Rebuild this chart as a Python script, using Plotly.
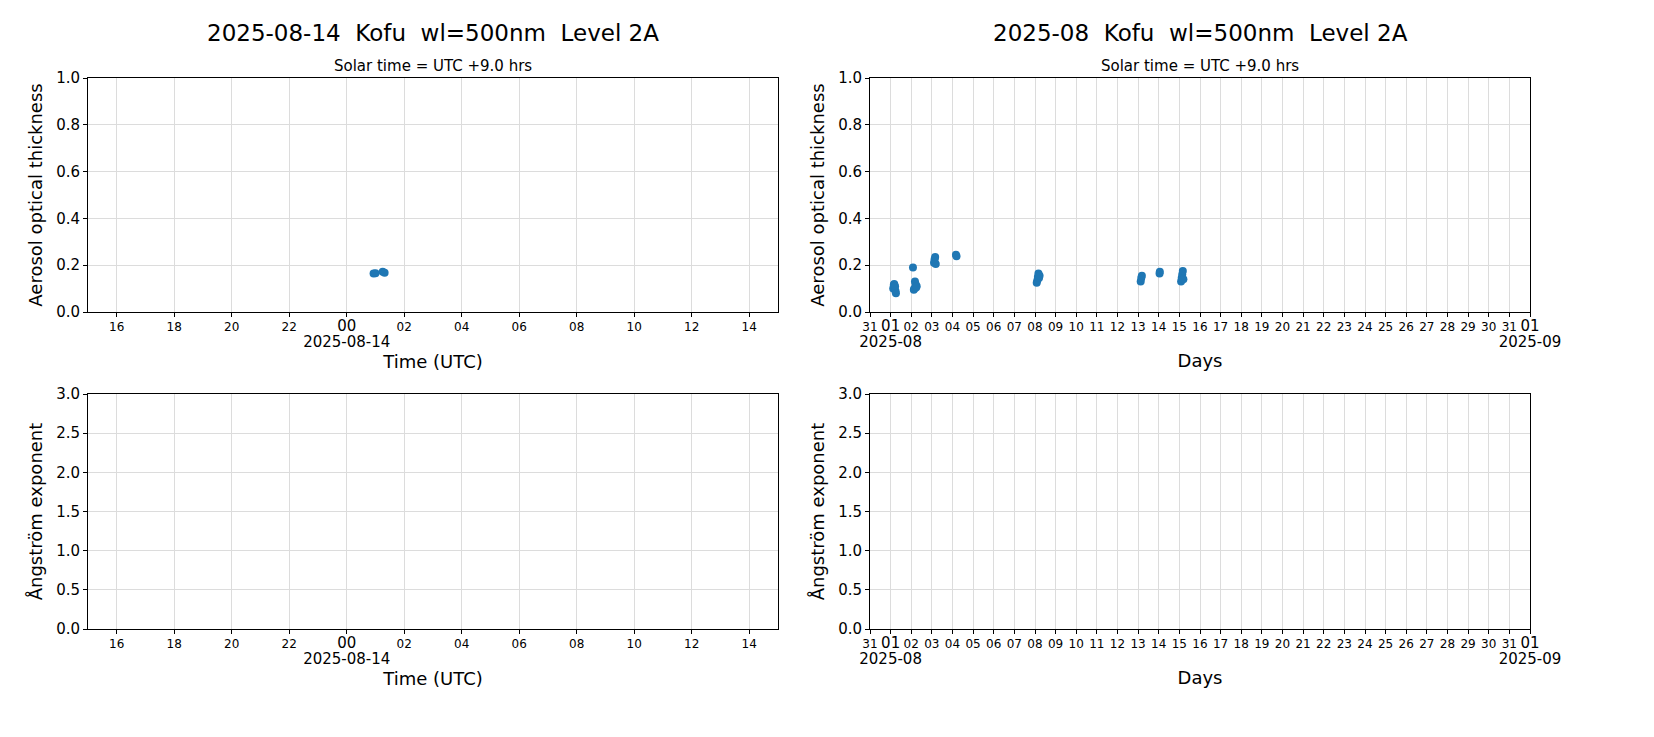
import plotly.graph_objects as go
from datetime import datetime, timedelta

# Daily plot data (UTC times on 2025-08-14)
day_times = ["2025-08-14 00:56", "2025-08-14 01:00", "2025-08-14 01:15", "2025-08-14 01:19"]
day_aot = [0.165, 0.166, 0.172, 0.168]

# Monthly plot data
month_times = ["2025-08-01 03:00", "2025-08-01 03:40", "2025-08-01 04:10", "2025-08-01 04:40", "2025-08-01 05:10", "2025-08-01 05:40", "2025-08-01 06:10",
               "2025-08-02 02:00",
               "2025-08-02 03:00", "2025-08-02 03:40", "2025-08-02 04:20", "2025-08-02 05:00", "2025-08-02 05:40", "2025-08-02 06:20",
               "2025-08-03 02:30", "2025-08-03 03:10", "2025-08-03 03:50", "2025-08-03 04:30",
               "2025-08-04 04:00", "2025-08-04 04:40",
               "2025-08-08 02:00", "2025-08-08 02:40", "2025-08-08 03:20", "2025-08-08 04:00", "2025-08-08 04:40", "2025-08-08 05:20",
               "2025-08-13 03:00", "2025-08-13 03:40", "2025-08-13 04:20",
               "2025-08-14 00:56", "2025-08-14 01:15",
               "2025-08-15 02:00", "2025-08-15 02:40", "2025-08-15 03:20", "2025-08-15 04:00", "2025-08-15 04:40"]
month_aot = [0.10, 0.115, 0.12, 0.105, 0.11, 0.09, 0.08,
             0.19,
             0.095, 0.10, 0.13, 0.12, 0.105, 0.11,
             0.21, 0.225, 0.235, 0.205,
             0.245, 0.238,
             0.125, 0.135, 0.15, 0.165, 0.145, 0.155,
             0.13, 0.145, 0.155,
             0.165, 0.172,
             0.13, 0.145, 0.16, 0.175, 0.14]

day_tickvals = ["2025-08-13 16:00", "2025-08-13 18:00", "2025-08-13 20:00", "2025-08-13 22:00", "2025-08-14 00:00",
                "2025-08-14 02:00", "2025-08-14 04:00", "2025-08-14 06:00", "2025-08-14 08:00", "2025-08-14 10:00",
                "2025-08-14 12:00", "2025-08-14 14:00"]
day_ticktext = ["16", "18", "20", "22", "<span style='font-size:15px'>00</span><br><span style='font-size:15px'>2025-08-14</span>",
                "02", "04", "06", "08", "10", "12", "14"]

start = datetime(2025, 7, 31)
month_tickvals = [(start + timedelta(days=i)).strftime("%Y-%m-%d") for i in range(33)]
month_ticktext = []
for i in range(33):
    d = start + timedelta(days=i)
    if d.day == 1:
        month_ticktext.append("<span style='font-size:15px'>01</span><br><span style='font-size:15px'>%s</span>" % d.strftime("%Y-%m"))
    else:
        month_ticktext.append(d.strftime("%d"))

fig = go.Figure()
BLUE = "#1f77b4"
fig.add_trace(go.Scatter(x=day_times, y=day_aot, mode="markers", marker=dict(color=BLUE, size=8), xaxis="x", yaxis="y"))
fig.add_trace(go.Scatter(x=month_times, y=month_aot, mode="markers", marker=dict(color=BLUE, size=8), xaxis="x2", yaxis="y2"))
fig.add_trace(go.Scatter(x=[], y=[], mode="markers", xaxis="x3", yaxis="y3"))
fig.add_trace(go.Scatter(x=[], y=[], mode="markers", xaxis="x4", yaxis="y4"))

W, H = 1654, 737
L1, R1 = 80 / W, 770 / W
L2, R2 = 862 / W, 1522 / W
T1, B1 = 1 - 70 / H, 1 - 304 / H
T2, B2 = 1 - 386 / H, 1 - 621 / H

ax = dict(showline=True, linecolor="black", mirror=True, ticks="outside", ticklen=4, tickcolor="black",
          showgrid=True, gridcolor="#dcdcdc", zeroline=False, tickfont=dict(size=12, color="black"),
          automargin=False, tickangle=0)
yax = dict(ax, tickfont=dict(size=15, color="black"))
dayx = dict(ax, type="date", range=["2025-08-13 15:00", "2025-08-14 15:00"], tickmode="array",
            tickvals=day_tickvals, ticktext=day_ticktext)
monx = dict(ax, type="date", range=["2025-07-31", "2025-09-01"], tickmode="array",
            tickvals=month_tickvals, ticktext=month_ticktext)
tf = dict(size=18, color="black")

fig.update_layout(
    width=W, height=H, showlegend=False, plot_bgcolor="white", paper_bgcolor="white",
    font=dict(family="DejaVu Sans", color="black"),
    margin=dict(l=0, r=0, t=0, b=0, autoexpand=False),
    xaxis=dict(dayx, domain=[L1, R1], anchor="y", title=dict(text="Time (UTC)", font=tf, standoff=4)),
    yaxis=dict(yax, domain=[B1, T1], anchor="x", range=[0, 1], dtick=0.2, tickformat=".1f",
               title=dict(text="Aerosol optical thickness", font=tf, standoff=8)),
    xaxis2=dict(monx, domain=[L2, R2], anchor="y2", title=dict(text="Days", font=tf, standoff=4)),
    yaxis2=dict(yax, domain=[B1, T1], anchor="x2", range=[0, 1], dtick=0.2, tickformat=".1f",
                title=dict(text="Aerosol optical thickness", font=tf, standoff=8)),
    xaxis3=dict(dayx, domain=[L1, R1], anchor="y3", title=dict(text="Time (UTC)", font=tf, standoff=4)),
    yaxis3=dict(yax, domain=[B2, T2], anchor="x3", range=[0, 3], dtick=0.5, tickformat=".1f",
                title=dict(text="Ångström exponent", font=tf, standoff=8)),
    xaxis4=dict(monx, domain=[L2, R2], anchor="y4", title=dict(text="Days", font=tf, standoff=4)),
    yaxis4=dict(yax, domain=[B2, T2], anchor="x4", range=[0, 3], dtick=0.5, tickformat=".1f",
                title=dict(text="Ångström exponent", font=tf, standoff=8)),
    annotations=[
        dict(text="2025-08-14  Kofu  wl=500nm  Level 2A", x=(L1 + R1) / 2, y=1 - 25 / H, xref="paper", yref="paper",
             showarrow=False, font=dict(size=23, color="black"), xanchor="center", yanchor="middle"),
        dict(text="2025-08  Kofu  wl=500nm  Level 2A", x=(L2 + R2) / 2, y=1 - 25 / H, xref="paper", yref="paper",
             showarrow=False, font=dict(size=23, color="black"), xanchor="center", yanchor="middle"),
        dict(text="Solar time = UTC +9.0 hrs", x=(L1 + R1) / 2, y=1 - 58 / H, xref="paper", yref="paper",
             showarrow=False, font=dict(size=15, color="black"), xanchor="center", yanchor="middle"),
        dict(text="Solar time = UTC +9.0 hrs", x=(L2 + R2) / 2, y=1 - 58 / H, xref="paper", yref="paper",
             showarrow=False, font=dict(size=15, color="black"), xanchor="center", yanchor="middle"),
    ],
)
fig.write_html("out.html")
